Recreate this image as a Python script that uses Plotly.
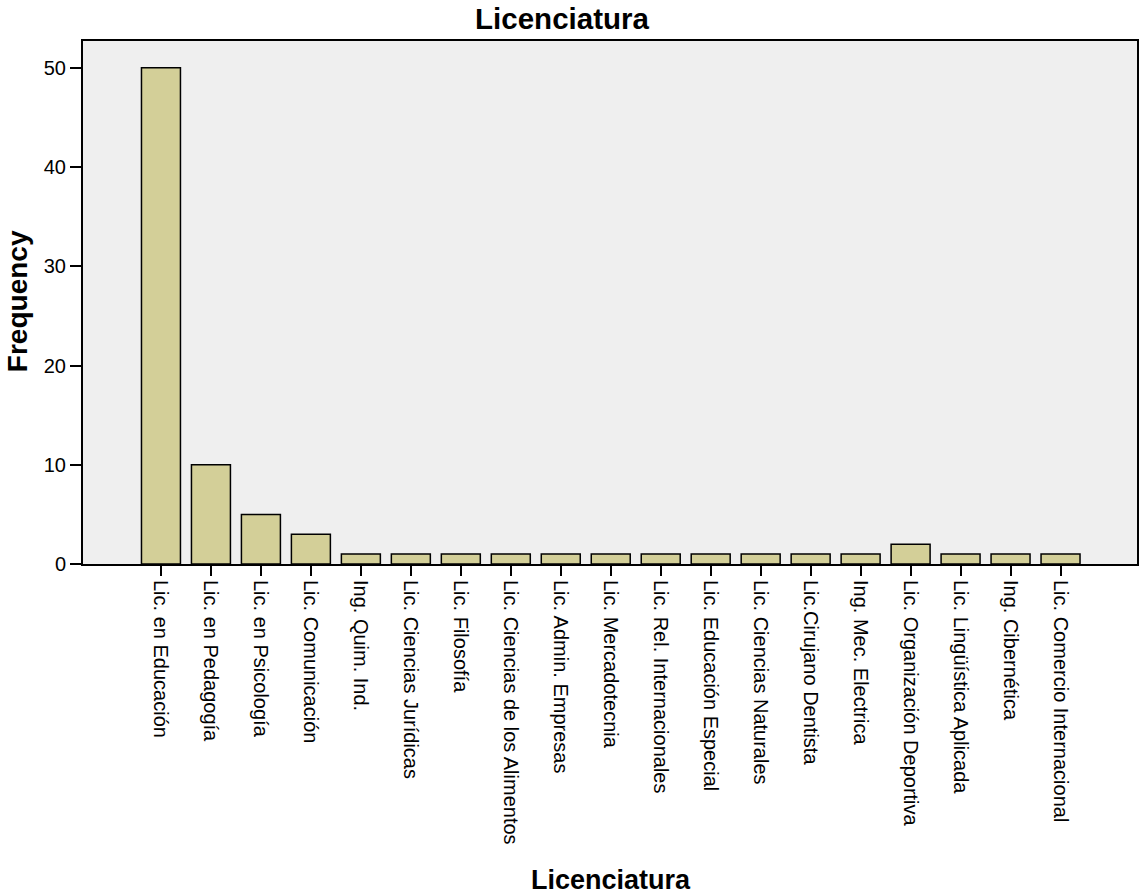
import plotly.graph_objects as go

categories = ["Lic. en Educación", "Lic. en Pedagogía", "Lic. en Psicología", "Lic. Comunicación",
              "Ing. Quim. Ind.", "Lic. Ciencias Jurídicas", "Lic. Filosofía",
              "Lic. Ciencias de los Alimentos", "Lic. Admin. Empresas", "Lic. Mercadotecnia",
              "Lic. Rel. Internacionales", "Lic. Educación Especial", "Lic. Ciencias Naturales",
              "Lic.Cirujano Dentista", "Ing. Mec. Electrica", "Lic. Organización Deportiva",
              "Lic. Lingüística Aplicada", "Ing. Cibernética", "Lic. Comercio Internacional"]
frequency = [50, 10, 5, 3, 1, 1, 1, 1, 1, 1, 1, 1, 1, 1, 1, 2, 1, 1, 1]
y_ticks = [0, 10, 20, 30, 40, 50]

font = "Liberation Sans, Arial, sans-serif"

fig = go.Figure(go.Bar(
    x=list(range(len(categories))), y=frequency,
    marker=dict(color="#d3cf98", line=dict(color="black", width=1.5)),
    width=0.78,
))

fig.update_layout(
    width=1140, height=895,
    margin=dict(l=83, r=1, t=41, b=331, pad=0),
    paper_bgcolor="white", plot_bgcolor="#efefef",
    font=dict(family=font, color="black", size=20),
    title=dict(text="<b>Licenciatura</b>", x=562/1140, xanchor="center", y=1 - 19/895, yanchor="middle",
               font=dict(size=29.5, family=font)),
    showlegend=False,
    annotations=[
        dict(text="<b>Licenciatura</b>", xref="paper", yref="paper", x=(612 - 83) / 1056,
             y=-(880 - 564) / 523, xanchor="center", yanchor="middle", showarrow=False,
             font=dict(size=27, family=font)),
        dict(text="<b>Frequency</b>", xref="paper", yref="paper", x=-(83 - 17) / 1056, y=(564 - 301) / 523,
             textangle=-90, showarrow=False, font=dict(size=28, family=font),
             xanchor="center", yanchor="middle"),
    ],
)

fig.update_xaxes(
    tickmode="array", tickvals=list(range(len(categories))), ticktext=categories,
    tickangle=90, range=[-1.56, 19.53], ticks="outside", ticklen=10, tickwidth=2, tickcolor="black",
    showline=True, linecolor="black", linewidth=2, mirror=True, showgrid=False, zeroline=False,
    tickfont=dict(size=20, family=font),
)
fig.update_yaxes(
    tickmode="array", tickvals=y_ticks, range=[0, 52.7], ticks="outside", ticklen=11, tickwidth=2,
    tickcolor="black", showline=True, linecolor="black", linewidth=2, mirror=True,
    showgrid=False, zeroline=False, tickfont=dict(size=20, family=font),
)

fig.write_html("out.html", config={"displayModeBar": False},
               post_script="document.body.style.margin='0';document.body.style.overflow='hidden';")
